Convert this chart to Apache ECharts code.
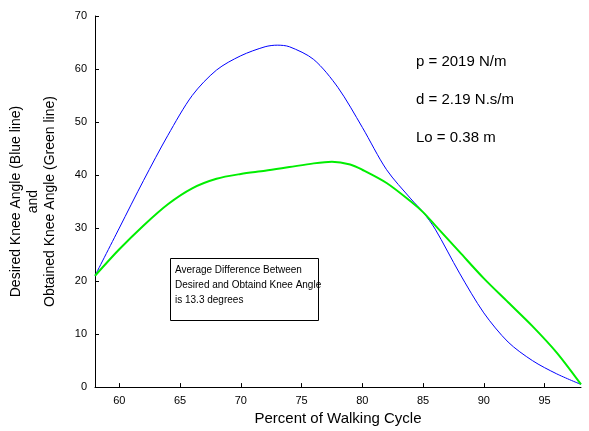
<!DOCTYPE html>
<html><head><meta charset="utf-8">
<script src="https://cdn.jsdelivr.net/npm/echarts@6/dist/echarts.min.js"></script>
<style>html,body{margin:0;background:#fff}#c{width:589px;height:431px}</style>
</head><body><div id="c"></div>
<script>
// desired knee angle (blue)
const blueX = [58,60,62,64,66,68,70,72,73,74,76,78,80,82,84,85,86,88,90,92,94,96,98];
const blueY = [21,30,39,47.5,55,59.8,62.5,64.2,64.5,64.2,61.8,56.5,49,41,35.5,33,29.8,21.5,14,8.5,5,2.5,0.5];
// obtained knee angle (green)
const greenX = [58,60,62,64,66,68,70,72,74,76,77.5,79,80,82,84,85,86,88,90,92,94,96,98];
const greenY = [21,26,30.5,34.5,37.5,39.3,40.2,40.8,41.5,42.2,42.5,42,41,38.5,35,33,30.5,25.5,20.5,16,11.5,6.5,0.5];
const xTicks = [60,65,70,75,80,85,90,95];

const chart = echarts.init(document.getElementById('c'));
const font = 'Liberation Sans, Arial, sans-serif';
chart.setOption({
  animation: false,
  grid: {left: 92, right: 8, top: 16, bottom: 36},
  xAxis: {
    type: 'value', min: 58, max: 98, interval: 5,
    name: 'Percent of Walking Cycle', nameLocation: 'middle', nameGap: 20,
    nameTextStyle: {fontSize: 15, color: '#000', fontFamily: font},
    axisLine: {onZero: false, lineStyle: {color: '#000'}},
    axisTick: {inside: true, length: 4, lineStyle: {color: '#000'}, customValues: xTicks},
    axisLabel: {color: '#000', fontSize: 11, fontFamily: font, customValues: xTicks},
    splitLine: {show: false}
  },
  yAxis: {
    type: 'value', min: 0, max: 70, interval: 10,
    name: 'Desired Knee Angle (Blue line)\nand\nObtained Knee Angle (Green line)',
    nameLocation: 'middle', nameGap: 36,
    nameTextStyle: {fontSize: 14, color: '#000', fontFamily: font, lineHeight: 17},
    axisLine: {lineStyle: {color: '#000'}},
    axisTick: {inside: true, length: 4, lineStyle: {color: '#000'}},
    axisLabel: {color: '#000', fontSize: 11, fontFamily: font},
    splitLine: {show: false}
  },
  series: [
    {type: 'line', smooth: 0.3, symbol: 'none', lineStyle: {color: '#0000ff', width: 1},
      data: blueX.map((x, i) => [x, blueY[i]])},
    {type: 'line', smooth: 0.3, symbol: 'none', lineStyle: {color: '#00ee00', width: 2},
      data: greenX.map((x, i) => [x, greenY[i]])}
  ],
  graphic: [
    {type: 'text', left: 416, top: 54, style: {text: 'p = 2019 N/m', font: '15px ' + font, fill: '#000'}},
    {type: 'text', left: 416, top: 92, style: {text: 'd = 2.19 N.s/m', font: '15px ' + font, fill: '#000'}},
    {type: 'text', left: 416, top: 130, style: {text: 'Lo = 0.38 m', font: '15px ' + font, fill: '#000'}},
    {type: 'rect', left: 170, top: 258, shape: {width: 148, height: 62},
      style: {fill: '#fff', stroke: '#000', lineWidth: 1}},
    {type: 'text', left: 175, top: 263,
      style: {text: 'Average Difference Between\nDesired and Obtaind Knee Angle\nis 13.3 degrees',
        font: '10px ' + font, fill: '#000', lineHeight: 15}}
  ]
});
</script></body></html>
